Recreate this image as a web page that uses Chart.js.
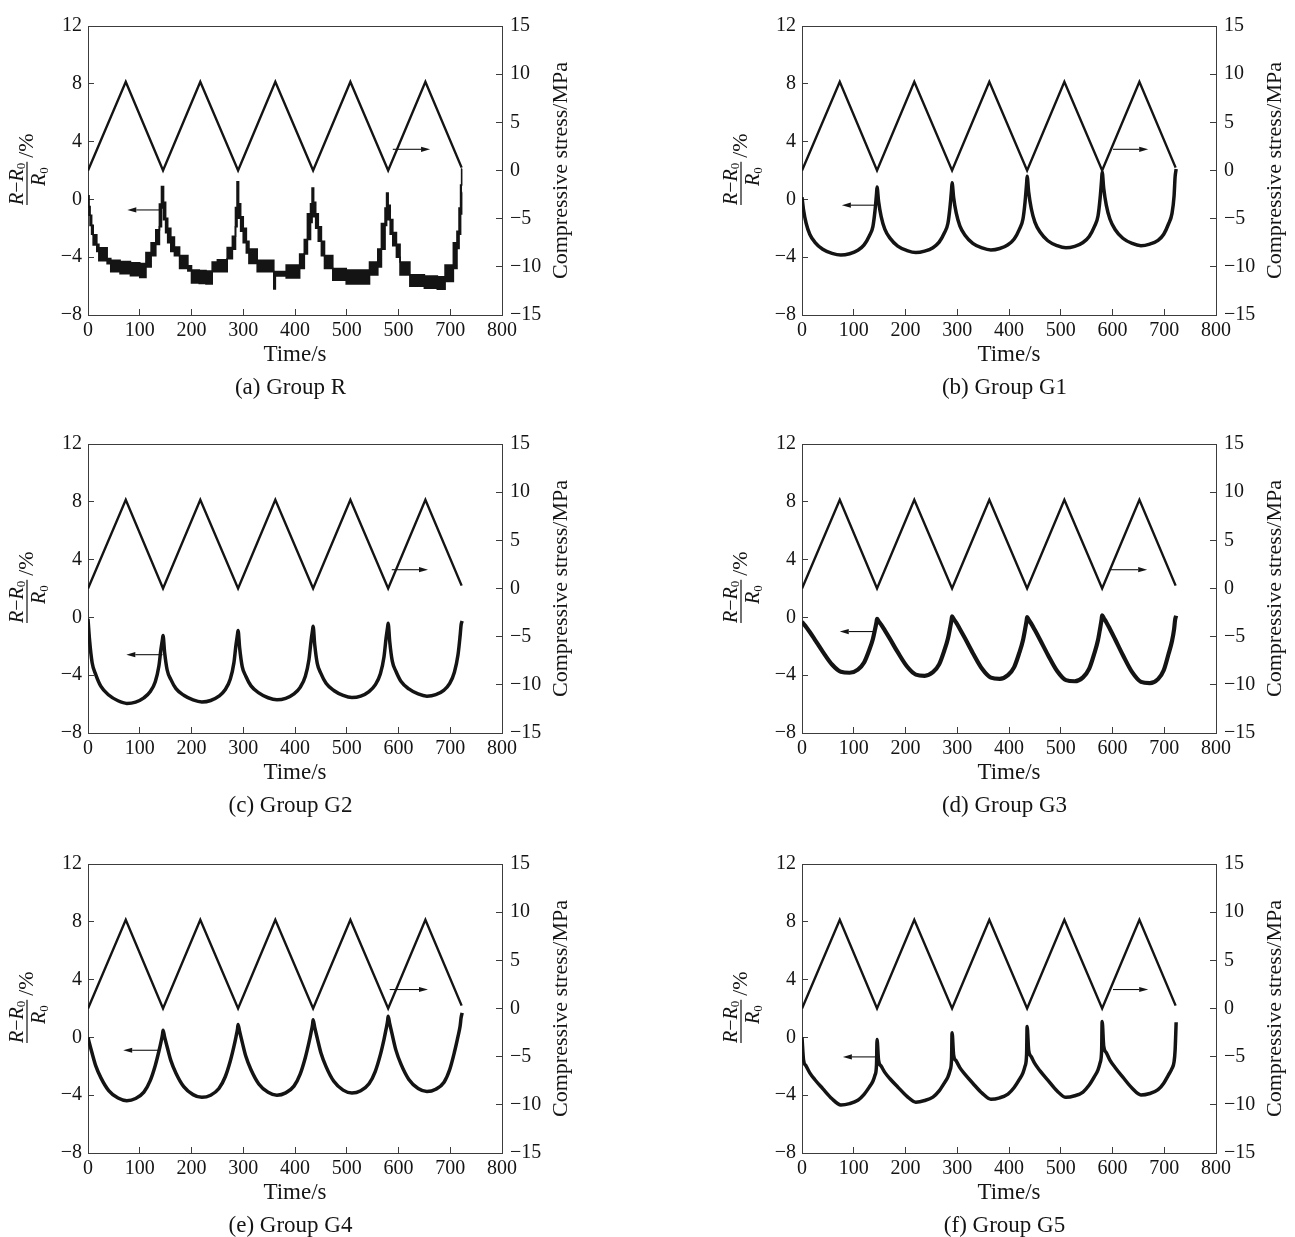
<!DOCTYPE html>
<html>
<head>
<meta charset="utf-8">
<title>Resistance and stress vs time</title>
<script src="https://cdn.jsdelivr.net/npm/chart.js@4.4.1/dist/chart.umd.min.js"></script>
<style>
  html, body { margin: 0; padding: 0; background: #fff; overflow: hidden; }
  #page { position: relative; width: 1295px; height: 1237px; }
  .panel { position: absolute; width: 581px; height: 419px; }
</style>
</head>
<body>
<div id="page">
  <div class="panel" style="left:0;top:0"><canvas id="chartA" width="581" height="419"></canvas></div>
  <div class="panel" style="left:714px;top:0"><canvas id="chartB" width="581" height="419"></canvas></div>
  <div class="panel" style="left:0;top:418px"><canvas id="chartC" width="581" height="419"></canvas></div>
  <div class="panel" style="left:714px;top:418px"><canvas id="chartD" width="581" height="419"></canvas></div>
  <div class="panel" style="left:0;top:838px"><canvas id="chartE" width="581" height="419"></canvas></div>
  <div class="panel" style="left:714px;top:838px"><canvas id="chartF" width="581" height="419"></canvas></div>
</div>
<script>
// values
const panelCaptions = ['(a) Group R', '(b) Group G1', '(c) Group G2', '(d) Group G3', '(e) Group G4', '(f) Group G5'];
const xTickLabels = ['0', '100', '200', '300', '400', '500', '600', '700', '800'];
// the source figure prints the 600 tick of panel (a) as "500"
const xTickLabelsR = ['0', '100', '200', '300', '400', '500', '500', '700', '800'];

// loading ramp, right axis (MPa)
const stressTime = [0, 73, 145, 217, 290, 362, 435, 507, 580, 652, 722];
const stressValue = [0, 9.2, 0, 9.2, 0, 9.2, 0, 9.2, 0, 9.2, 0.3];

// group R: quantised signal, drawn as upper / lower edge of the black band
// (each value holds until the next time)
const rTime = [
  0, 2, 4, 7, 10, 17, 21, 37, 44, 62, 82, 100, 112, 122, 131, 138, 142,
  146, 150, 154, 160, 167, 177, 193, 200, 215, 228, 240, 250, 269, 279, 285, 288,
  291, 295, 300, 306, 311, 327, 359, 362, 383, 409, 418, 424, 430, 433,
  436, 440, 445, 451, 457, 473, 499, 544, 560, 567, 574, 577,
  580, 584, 589, 596, 603, 622, 650, 675, 690, 706, 713, 717, 720, 722, 723
];
const rUpper = [
  0.25, -0.5, -1.1, -1.8, -2.45, -3.1, -3.35, -4.1, -4.22, -4.3, -4.38, -4.44, -3.67, -3.0, -2.11, -0.33, 0.89,
  -0.2, -1.3, -2.0, -2.6, -3.3, -3.89, -4.6, -4.89, -4.93, -4.95, -4.33, -4.18, -3.33, -2.55, -0.56, 1.22,
  -0.3, -1.2, -2.0, -2.9, -3.44, -4.22, -5.0, -5.0, -4.55, -3.78, -2.78, -1.0, -0.3, 0.78,
  -0.2, -1.0, -1.9, -2.9, -3.89, -4.78, -4.89, -4.33, -3.44, -1.67, -0.6, 0.44,
  -0.4, -1.4, -2.3, -3.1, -4.33, -5.22, -5.3, -5.35, -4.55, -3.0, -2.2, -0.6, 1.0, 2.1, 2.1
];
const rLower = [
  -0.5, -1.1, -1.8, -2.4, -3.15, -3.6, -4.25, -4.45, -5.0, -5.15, -5.28, -5.4, -4.67, -3.89, -3.11, -1.89, -0.6,
  -1.4, -2.3, -3.0, -3.6, -3.9, -4.78, -4.95, -5.78, -5.82, -5.85, -5.0, -5.0, -4.11, -3.44, -1.89, -0.6,
  -1.3, -2.2, -3.0, -3.7, -4.44, -5.0, -6.2, -5.3, -5.44, -4.78, -3.78, -2.78, -1.6, -0.6,
  -1.2, -2.0, -2.9, -3.9, -4.78, -5.6, -5.85, -5.22, -4.67, -3.44, -1.8, -0.7,
  -1.4, -2.4, -3.2, -4.0, -5.22, -6.0, -6.15, -6.22, -5.67, -4.78, -3.4, -2.4, -1.0, 0.5, 0.5
];

// groups G1..G5 share one time base
const gTime = [
  0, 3, 8, 15, 25, 40, 58, 75, 92, 108, 120, 130, 137, 141, 144,
  145, 148, 153, 160, 170, 185, 203, 220, 237, 253, 265, 275, 282, 286, 289,
  290, 293, 298, 305, 315, 330, 348, 365, 382, 398, 410, 420, 427, 431, 434,
  435, 438, 443, 450, 460, 475, 493, 510, 527, 543, 555, 565, 572, 576, 579,
  580, 583, 588, 595, 605, 620, 638, 655, 672, 688, 699, 708, 715, 719, 721,
  723
];
const g1Values = [
  0.15, -0.73, -1.65, -2.41, -2.97, -3.45, -3.73, -3.85, -3.76, -3.52, -3.15, -2.53, -1.88, -0.8, 0.38,
  0.85, -0.15, -1.19, -2.05, -2.68, -3.23, -3.54, -3.68, -3.58, -3.34, -2.96, -2.33, -1.65, -0.54, 0.67,
  1.15, 0.13, -0.94, -1.83, -2.48, -3.04, -3.36, -3.5, -3.4, -3.14, -2.74, -2.07, -1.36, -0.19, 1.09,
  1.6, 0.51, -0.63, -1.57, -2.26, -2.86, -3.2, -3.35, -3.25, -2.98, -2.56, -1.88, -1.15, 0.06, 1.38,
  1.9, 0.78, -0.4, -1.36, -2.08, -2.69, -3.05, -3.2, -3.09, -2.83, -2.41, -1.72, -0.97, 0.25, 1.57,
  2.1
];
const g2Values = [
  -0.1, -1.56, -3.14, -3.96, -4.78, -5.37, -5.77, -5.95, -5.86, -5.57, -5.15, -4.45, -3.37, -2.19, -1.49,
  -1.25, -2.4, -3.64, -4.29, -4.93, -5.39, -5.71, -5.85, -5.75, -5.45, -5.01, -4.27, -3.13, -1.89, -1.15,
  -0.9, -2.1, -3.4, -4.07, -4.74, -5.22, -5.56, -5.7, -5.6, -5.29, -4.84, -4.07, -2.91, -1.64, -0.87,
  -0.62, -1.85, -3.18, -3.87, -4.56, -5.06, -5.4, -5.55, -5.45, -5.14, -4.67, -3.9, -2.72, -1.43, -0.66,
  -0.4, -1.66, -3.03, -3.73, -4.44, -4.95, -5.3, -5.45, -5.35, -5.03, -4.57, -3.79, -2.59, -1.29, -0.51,
  -0.25
];
const g3Values = [
  -0.3, -0.44, -0.66, -1.01, -1.55, -2.37, -3.26, -3.76, -3.83, -3.61, -3.12, -2.25, -1.49, -0.85, -0.33,
  -0.1, -0.26, -0.5, -0.9, -1.49, -2.41, -3.4, -3.96, -4.04, -3.79, -3.25, -2.29, -1.46, -0.75, -0.17,
  0.08, -0.1, -0.36, -0.8, -1.45, -2.46, -3.56, -4.17, -4.26, -4.0, -3.44, -2.44, -1.58, -0.84, -0.24,
  0.02, -0.16, -0.43, -0.88, -1.55, -2.58, -3.71, -4.34, -4.42, -4.15, -3.55, -2.48, -1.56, -0.77, -0.13,
  0.15, -0.04, -0.33, -0.8, -1.51, -2.6, -3.79, -4.46, -4.55, -4.27, -3.66, -2.57, -1.63, -0.82, -0.16,
  0.12
];
const g4Values = [
  0, -0.44, -1.1, -1.97, -2.8, -3.68, -4.2, -4.38, -4.23, -3.79, -3.01, -1.94, -0.96, -0.33, 0.21,
  0.5, 0.04, -0.66, -1.59, -2.48, -3.41, -3.96, -4.15, -4.0, -3.54, -2.74, -1.63, -0.62, 0.04, 0.6,
  0.9, 0.41, -0.33, -1.31, -2.24, -3.22, -3.8, -4.0, -3.84, -3.37, -2.54, -1.39, -0.35, 0.33, 0.91,
  1.22, 0.71, -0.05, -1.06, -2.02, -3.04, -3.65, -3.85, -3.69, -3.21, -2.36, -1.19, -0.13, 0.57, 1.15,
  1.47, 0.95, 0.17, -0.88, -1.87, -2.91, -3.54, -3.75, -3.59, -3.1, -2.22, -1.03, 0.07, 0.77, 1.37,
  1.7
];
const g5Values = [
  0, -1.56, -1.98, -2.45, -2.93, -3.54, -4.25, -4.67, -4.58, -4.35, -3.94, -3.44, -3.03, -2.62, -1.89,
  -0.15, -1.59, -1.99, -2.42, -2.86, -3.43, -4.08, -4.48, -4.37, -4.13, -3.7, -3.16, -2.73, -2.29, -1.51,
  0.33, -1.21, -1.63, -2.09, -2.56, -3.17, -3.86, -4.28, -4.18, -3.92, -3.47, -2.91, -2.45, -1.99, -1.18,
  0.75, -0.88, -1.33, -1.82, -2.32, -2.96, -3.71, -4.15, -4.04, -3.78, -3.3, -2.72, -2.24, -1.76, -0.91,
  1.1, -0.59, -1.05, -1.57, -2.08, -2.75, -3.52, -3.98, -3.88, -3.62, -3.17, -2.61, -2.15, -1.69, -0.88,
  1.05
];

// arrows: [from time, to time, level]; left ones on the left axis, right ones in MPa
const leftArrows = [[143, 76, -0.73], [145, 77, -0.4], [144, 74, -2.58], [143, 73, -0.98], [138, 68, -0.89], [147, 79, -1.35]];
const rightArrows = [[589, 661, 2.2], [601, 669, 2.2], [587, 657, 1.95], [595, 667, 1.95], [583, 657, 1.97], [601, 669, 1.97]];

const serif = '"Liberation Serif", "Times New Roman", serif';
const ink = '#141414';
const axisInk = '#3c3c3c';

function pts(xs, ys) {
  return xs.map((x, i) => ({ x: x, y: ys[i] }));
}

function minusSign(v) {
  return String(v).replace('-', '\u2212');
}

function piece(ctx, text, font, x, y) {
  ctx.font = font;
  ctx.fillText(text, x, y);
  return x + ctx.measureText(text).width;
}

function arrow(ctx, x0, x1, y) {
  const dir = Math.sign(x1 - x0);
  const head = 9;
  ctx.lineWidth = 1.1;
  ctx.beginPath();
  ctx.moveTo(x0, y);
  ctx.lineTo(x1 - dir * head, y);
  ctx.stroke();
  ctx.beginPath();
  ctx.moveTo(x1, y);
  ctx.lineTo(x1 - dir * head, y - 2.6);
  ctx.lineTo(x1 - dir * head, y + 2.6);
  ctx.closePath();
  ctx.fill();
}

// (R - R0)/R0 /% written as a stacked fraction, turned to read upwards
function drawFraction(ctx, cx, cy) {
  const it = 'italic 20px ' + serif;
  const rm = '20px ' + serif;
  const sub = '13px ' + serif;
  ctx.save();
  ctx.translate(cx, cy);
  ctx.rotate(-Math.PI / 2);
  ctx.textAlign = 'left';
  ctx.textBaseline = 'alphabetic';
  let x = 0;
  x = piece(ctx, 'R', it, x, -4);
  x = piece(ctx, '\u2212', rm, x, -4);
  x = piece(ctx, 'R', it, x, -4);
  x = piece(ctx, '0', sub, x, -2);
  ctx.fillRect(0, -0.6, x + 1, 1.2);
  let d = 19;
  d = piece(ctx, 'R', it, d, 18);
  piece(ctx, '0', sub, d, 21);
  piece(ctx, '/%', '22px ' + serif, x + 5, 6);
  ctx.restore();
}

const decor = {
  id: 'decor',
  afterDatasetsDraw(chart, args, opts) {
    const ctx = chart.ctx;
    const area = chart.chartArea;
    const sx = chart.scales.x;
    const sy = chart.scales.y;
    const sy2 = chart.scales.y2;
    ctx.save();
    ctx.strokeStyle = axisInk;
    ctx.lineWidth = 1;
    ctx.beginPath();
    ctx.moveTo(area.left, Math.round(area.top) + 0.5);
    ctx.lineTo(area.right, Math.round(area.top) + 0.5);
    ctx.stroke();

    ctx.strokeStyle = ink;
    ctx.fillStyle = ink;
    const l = opts.left;
    const r = opts.right;
    arrow(ctx, sx.getPixelForValue(l[0]), sx.getPixelForValue(l[1]), sy.getPixelForValue(l[2]));
    arrow(ctx, sx.getPixelForValue(r[0]), sx.getPixelForValue(r[1]), sy2.getPixelForValue(r[2]));

    ctx.save();
    ctx.translate(567, (area.top + area.bottom) / 2);
    ctx.rotate(-Math.PI / 2);
    ctx.textAlign = 'center';
    ctx.textBaseline = 'alphabetic';
    ctx.font = '22px ' + serif;
    ctx.fillText('Compressive stress/MPa', 0, 0);
    ctx.restore();

    drawFraction(ctx, 27, area.top + 179);
    ctx.restore();
  }
};

function axisGrid() {
  return { drawOnChartArea: false, tickLength: -6, color: axisInk, lineWidth: 1 };
}

function buildChart(canvasId, index, datasets, xLabels) {
  return new Chart(document.getElementById(canvasId), {
    type: 'line',
    data: { datasets: datasets },
    plugins: [decor],
    options: {
      responsive: false,
      animation: false,
      events: [],
      layout: { padding: { top: 15, left: 0, right: 0, bottom: 0 } },
      plugins: {
        legend: { display: false },
        tooltip: { enabled: false },
        title: {
          display: true,
          position: 'bottom',
          text: panelCaptions[index],
          color: ink,
          font: { family: serif, size: 23, weight: 'normal', lineHeight: 1.2 },
          padding: { top: 0, bottom: 17 }
        },
        decor: { left: leftArrows[index], right: rightArrows[index] }
      },
      scales: {
        x: {
          type: 'linear',
          position: 'bottom',
          min: 0,
          max: 800,
          ticks: {
            stepSize: 100,
            autoSkip: false,
            maxRotation: 0,
            padding: 10,
            color: ink,
            font: { family: serif, size: 20 },
            callback: (v) => xLabels[Math.round(v / 100)]
          },
          grid: axisGrid(),
          border: { color: axisInk, width: 1 },
          title: {
            display: true,
            text: 'Time/s',
            color: ink,
            font: { family: serif, size: 23, lineHeight: 1.2 },
            padding: { top: 0, bottom: 5.6 }
          },
          afterFit: (s) => { s.height = 59.4; }
        },
        y: {
          position: 'left',
          min: -8,
          max: 12,
          ticks: {
            stepSize: 4,
            padding: 12,
            color: ink,
            font: { family: serif, size: 20 },
            callback: minusSign
          },
          grid: axisGrid(),
          border: { color: axisInk, width: 1 },
          afterFit: (s) => { s.width = 88; }
        },
        y2: {
          position: 'right',
          min: -15,
          max: 15,
          ticks: {
            stepSize: 5,
            padding: 14,
            color: ink,
            font: { family: serif, size: 20 },
            callback: minusSign
          },
          grid: axisGrid(),
          border: { color: axisInk, width: 1 },
          afterFit: (s) => { s.width = 79; }
        }
      }
    }
  });
}

function stressSet() {
  return {
    label: 'Compressive stress',
    data: pts(stressTime, stressValue),
    yAxisID: 'y2',
    borderColor: ink,
    borderWidth: 2.4,
    pointRadius: 0,
    tension: 0,
    fill: false
  };
}

function curveSet(values, width) {
  return {
    label: 'R',
    data: pts(gTime, values),
    yAxisID: 'y',
    borderColor: ink,
    borderWidth: width,
    pointRadius: 0,
    cubicInterpolationMode: 'monotone',
    fill: false
  };
}

// Chart.js 'before' keeps the previous value until the next time stamp
buildChart('chartA', 0, [
  stressSet(),
  {
    label: 'R upper',
    data: pts(rTime, rUpper),
    yAxisID: 'y',
    borderColor: ink,
    borderWidth: 1.6,
    pointRadius: 0,
    stepped: 'before',
    fill: false
  },
  {
    label: 'R lower',
    data: pts(rTime, rLower),
    yAxisID: 'y',
    borderColor: ink,
    borderWidth: 1.6,
    pointRadius: 0,
    stepped: 'before',
    backgroundColor: ink,
    fill: '-1'
  }
], xTickLabelsR);

buildChart('chartB', 1, [stressSet(), curveSet(g1Values, 3.5)], xTickLabels);
buildChart('chartC', 2, [stressSet(), curveSet(g2Values, 3.5)], xTickLabels);
buildChart('chartD', 3, [stressSet(), curveSet(g3Values, 4.2)], xTickLabels);
buildChart('chartE', 4, [stressSet(), curveSet(g4Values, 3.5)], xTickLabels);
buildChart('chartF', 5, [stressSet(), curveSet(g5Values, 3.5)], xTickLabels);
</script>
</body>
</html>
